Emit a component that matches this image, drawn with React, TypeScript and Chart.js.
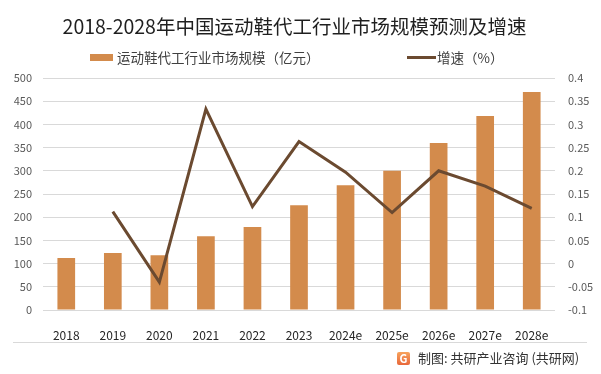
import React, { useEffect, useRef } from "react";
import { Chart, registerables } from "chart.js";

Chart.register(...registerables);

const categories = ["2018", "2019", "2020", "2021", "2022", "2023", "2024e", "2025e", "2026e", "2027e", "2028e"];
const marketSize = [112, 123, 118, 159, 179, 226, 269, 300, 360, 418, 470];
const growthRate = [null, 0.112, -0.04, 0.333, 0.123, 0.263, 0.197, 0.11, 0.2, 0.167, 0.119];
const titleText = "2018-2028年中国运动鞋代工行业市场规模预测及增速";
const barLegend = "运动鞋代工行业市场规模（亿元）";
const lineLegend = "增速（%）";
const sourceText = "制图: 共研产业咨询 (共研网)";

const BAR_COLOR = "#D38B4C";
const LINE_COLOR = "#6B4A30";
const FONT = "'Noto Sans CJK SC', 'Noto Sans', sans-serif";

const decorPlugin = {
  id: "decor",
  afterDraw(chart: any) {
    const ctx = chart.ctx as CanvasRenderingContext2D;
    ctx.save();
    // title
    ctx.fillStyle = "#1f1f1f";
    ctx.font = `19.5px ${FONT}`;
    ctx.textAlign = "center";
    ctx.textBaseline = "middle";
    ctx.fillText(titleText, 294.5, 27);
    // legend
    ctx.fillStyle = BAR_COLOR;
    ctx.fillRect(90, 54, 23, 7);
    ctx.fillStyle = "#404040";
    ctx.font = `13.5px ${FONT}`;
    ctx.textAlign = "left";
    ctx.fillText(barLegend, 117, 58);
    ctx.strokeStyle = LINE_COLOR;
    ctx.lineWidth = 3;
    ctx.beginPath();
    ctx.moveTo(407, 57.5);
    ctx.lineTo(436, 57.5);
    ctx.stroke();
    ctx.fillText(lineLegend, 437, 58);
    // footer separator
    ctx.strokeStyle = "#d9d9d9";
    ctx.lineWidth = 1;
    ctx.beginPath();
    ctx.moveTo(13, 342.5);
    ctx.lineTo(587, 342.5);
    ctx.stroke();
    // logo
    const g = ctx.createLinearGradient(397, 352, 397, 365);
    g.addColorStop(0, "#F7A35C");
    g.addColorStop(1, "#E8673A");
    ctx.fillStyle = g;
    ctx.beginPath();
    (ctx as any).roundRect ? (ctx as any).roundRect(397, 352, 13, 13, 2) : ctx.rect(397, 352, 13, 13);
    ctx.fill();
    ctx.fillStyle = "#ffffff";
    ctx.font = `bold 11px ${FONT}`;
    ctx.textAlign = "center";
    ctx.fillText("G", 403.5, 358.5);
    // source text
    ctx.fillStyle = "#333333";
    ctx.font = `13px ${FONT}`;
    ctx.textAlign = "left";
    ctx.fillText(sourceText, 418, 358);
    ctx.restore();
  },
};

export default function App() {
  const ref = useRef<HTMLCanvasElement | null>(null);
  useEffect(() => {
    if (!ref.current) return;
    const chart = new Chart(ref.current, {
      type: "bar",
      data: {
        labels: categories,
        datasets: [
          {
            type: "line",
            label: lineLegend,
            data: growthRate as any,
            yAxisID: "y1",
            borderColor: LINE_COLOR,
            backgroundColor: LINE_COLOR,
            borderWidth: 3,
            pointRadius: 0,
            tension: 0,
            order: 0,
          } as any,
          {
            type: "bar",
            label: barLegend,
            data: marketSize,
            yAxisID: "y",
            backgroundColor: BAR_COLOR,
            barPercentage: 0.38,
            categoryPercentage: 1,
            order: 1,
          },
        ],
      },
      options: {
        responsive: false,
        animation: false,
        layout: { padding: { top: 78, left: 0, right: 0, bottom: 0 } },
        plugins: {
          legend: { display: false },
          title: { display: false },
          tooltip: { enabled: false },
        },
        scales: {
          x: {
            grid: { display: false },
            border: { display: false },
            ticks: {
              color: "#262626",
              font: { family: FONT, size: 12 },
              padding: 10,
              maxRotation: 0,
              autoSkip: false,
            },
            afterFit(scale: any) {
              scale.height = 64;
            },
          },
          y: {
            position: "left",
            min: 0,
            max: 500,
            ticks: {
              stepSize: 50,
              color: "#595959",
              font: { family: FONT, size: 11 },
              padding: 11,
            },
            grid: { color: "#d9d9d9", lineWidth: 1, drawTicks: false },
            border: { display: false },
            afterFit(scale: any) {
              scale.width = 43;
            },
          },
          y1: {
            position: "right",
            min: -0.1,
            max: 0.4,
            ticks: {
              stepSize: 0.05,
              color: "#595959",
              font: { family: FONT, size: 11 },
              padding: 13,
              callback: (v: any) => String(Math.round(Number(v) * 100) / 100),
            },
            grid: { display: false, drawTicks: false },
            border: { display: false },
            afterFit(scale: any) {
              scale.width = 46;
            },
          },
        },
      },
      plugins: [decorPlugin],
    } as any);
    return () => chart.destroy();
  }, []);
  return (
    <div style={{ position: "absolute", left: 0, top: 0, width: 601, height: 374, background: "#ffffff" }}>
      <canvas ref={ref} width={601} height={374} />
    </div>
  );
}
